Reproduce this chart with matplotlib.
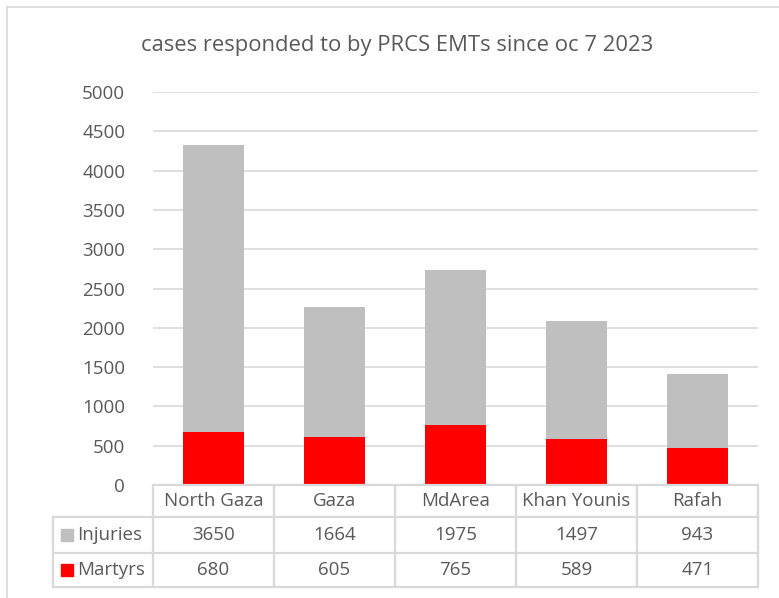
import matplotlib
matplotlib.use("Agg")
import matplotlib.pyplot as plt
from matplotlib.patches import Rectangle
from matplotlib.lines import Line2D

categories = ["North Gaza", "Gaza", "MdArea", "Khan Younis", "Rafah"]
martyrs = [680, 605, 765, 589, 471]
injuries = [3650, 1664, 1975, 1497, 943]
series_names = ["Injuries", "Martyrs"]
title = "cases responded to by PRCS EMTs since oc 7 2023"
yticks = list(range(0, 5001, 500))

W, H = 779, 598
plt.rcParams['font.family'] = ['Open Sans', 'DejaVu Sans']
TXT = "#595959"
GRID = "#d9d9d9"
GRAY = "#bfbfbf"
RED = "#ff0000"

fig = plt.figure(figsize=(W / 100, H / 100), dpi=100)

def fx(px):
    return px / W

def fy(py):
    return 1 - py / H

# chart border
fig.add_artist(Line2D([fx(7), fx(7)], [fy(7), fy(H + 5)], color=GRID, lw=1.2))
fig.add_artist(Line2D([fx(7), fx(W + 5)], [fy(7), fy(7)], color=GRID, lw=1.2))

L, R, T, B = 153, 758, 92, 485
ax = fig.add_axes([fx(L), fy(B), fx(R - L), (B - T) / H])
x = list(range(len(categories)))
ax.bar(x, martyrs, width=0.51, color=RED, zorder=3)
ax.bar(x, injuries, width=0.51, bottom=martyrs, color=GRAY, zorder=3)
ax.set_xlim(-0.5, len(categories) - 0.5)
ax.set_ylim(0, 5000)
ax.set_yticks(yticks)
ax.set_yticklabels([str(v) for v in yticks], color=TXT, fontsize=13.5)
ax.tick_params(axis='y', length=0, pad=20)
ax.set_xticks([])
ax.grid(axis='y', color=GRID, lw=1.2, zorder=0)
for s in ax.spines.values():
    s.set_visible(False)

fig.text(fx(397), fy(45), title, ha='center', va='center', color=TXT, fontsize=15.8)

# data table
tax = fig.add_axes([0, 0, 1, 1], zorder=5)
tax.set_xlim(0, W)
tax.set_ylim(H, 0)
tax.axis('off')
tax.patch.set_alpha(0)
lc = dict(color=GRID, lw=1.6, solid_capstyle='projecting')
rows_y = [485, 517, 553, 587]
label_left = 53
col_w = (R - L) / len(categories)
tax.plot([L, R], [485, 485], **lc)
for yy in rows_y[1:]:
    tax.plot([label_left, R], [yy, yy], **lc)
tax.plot([label_left, label_left], [517, 587], **lc)
for i in range(len(categories) + 1):
    xx = L + i * col_w
    tax.plot([xx, xx], [485, 587], **lc)

fs = 13.5
ys = [(rows_y[0] + rows_y[1]) / 2, (rows_y[1] + rows_y[2]) / 2, (rows_y[2] + rows_y[3]) / 2]
for i, c in enumerate(categories):
    cx = L + (i + 0.5) * col_w
    tax.text(cx, ys[0], c, ha='center', va='center', color=TXT, fontsize=fs)
    tax.text(cx, ys[1], str(injuries[i]), ha='center', va='center', color=TXT, fontsize=fs)
    tax.text(cx, ys[2], str(martyrs[i]), ha='center', va='center', color=TXT, fontsize=fs)

for yy, name, col in [(ys[1], series_names[0], GRAY), (ys[2], series_names[1], RED)]:
    tax.add_patch(Rectangle((61, yy - 6), 12, 12, color=col))
    tax.text(77, yy, name, ha='left', va='center', color=TXT, fontsize=fs)

fig.savefig("out.png", dpi=100)
